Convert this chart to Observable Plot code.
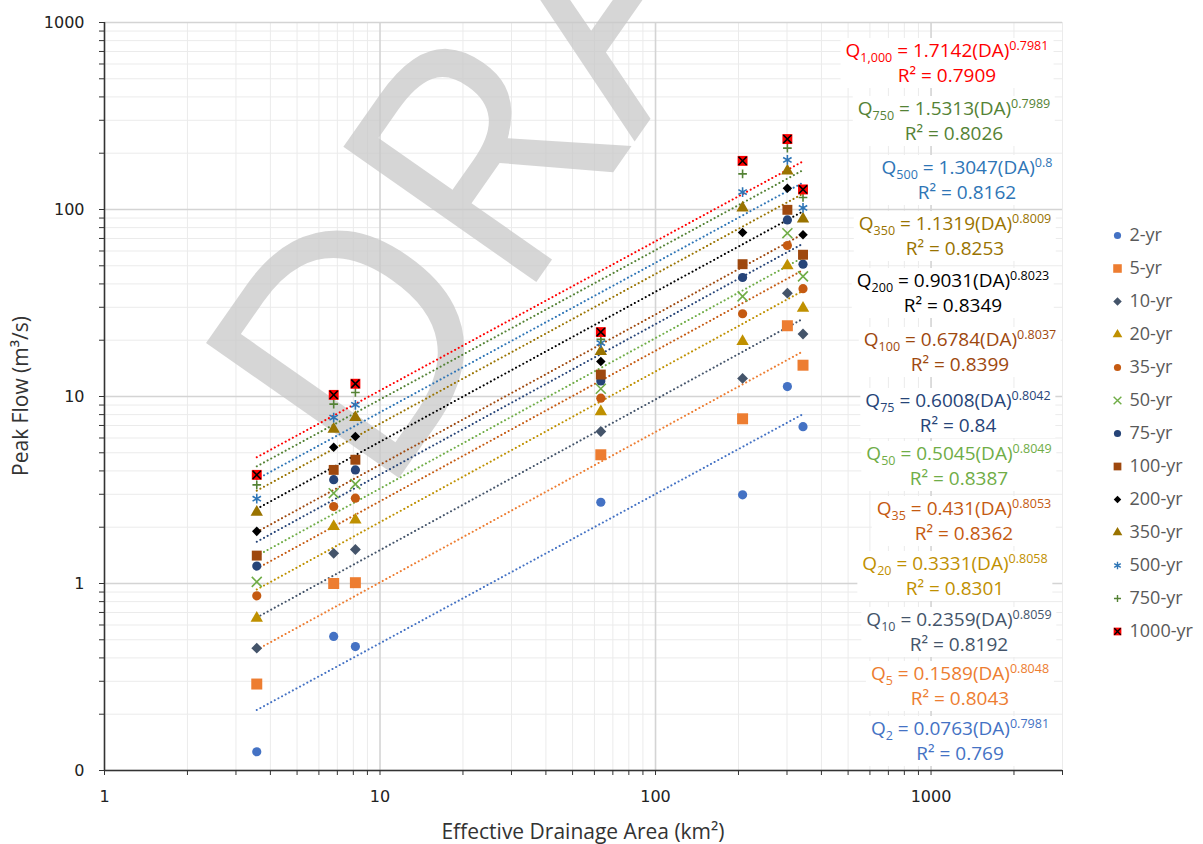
<!DOCTYPE html>
<html>
<head>
<meta charset="utf-8">
<script src="https://cdn.jsdelivr.net/npm/d3@7"></script>
<script src="https://cdn.jsdelivr.net/npm/@observablehq/plot@0.6"></script>
<style>
  body { margin: 0; background: #fff; }
  #wrap { position: relative; width: 1203px; height: 844px; overflow: hidden; background: #fff; }
  #wrap svg { position: absolute; left: 0; top: 0; }
  .eq { position: absolute; transform: translateX(-50%); background: #fff; text-align: center;
        white-space: nowrap; font-family: "Open Sans", sans-serif; font-size: 19px; line-height: 25px; padding: 0 5px; }
  .eq sub, .eq sup { font-size: 0.66em; line-height: 0; }
  .axt { position: absolute; font-family: "Open Sans", sans-serif; font-size: 21px; line-height: 21px; color: #333; white-space: nowrap; }
</style>
</head>
<body>
<div id="wrap"></div>
<script>
// ---------- data ----------
const drainageArea = [3.57, 6.79, 8.14, 63.3, 207, 301, 343];
const seriesNames = ["2-yr","5-yr","10-yr","20-yr","35-yr","50-yr","75-yr","100-yr","200-yr","350-yr","500-yr","750-yr","1000-yr"];
const q2yr    = [0.126, 0.521, 0.46, 2.72, 2.98, 11.3, 6.9];
const q5yr    = [0.290, 1.00, 1.01, 4.88, 7.6, 23.9, 14.7];
const q10yr   = [0.451, 1.45, 1.52, 6.5, 12.5, 35.7, 21.6];
const q20yr   = [0.653, 2.02, 2.19, 8.3, 19.7, 50, 29.7];
const q35yr   = [0.859, 2.58, 2.86, 9.8, 27.7, 64.2, 37.7];
const q50yr   = [1.02, 3.04, 3.40, 11.0, 34.3, 74.7, 43.9];
const q75yr   = [1.24, 3.59, 4.05, 12.1, 43.3, 88, 51];
const q100yr  = [1.41, 4.05, 4.59, 13.1, 51, 99.6, 57.3];
const q200yr  = [1.90, 5.35, 6.11, 15.4, 75.3, 130, 73.2];
const q350yr  = [2.41, 6.68, 7.72, 17.4, 102, 161, 89];
const q500yr  = [2.84, 7.72, 9.03, 19.3, 124, 184, 102];
const q750yr  = [3.37, 9.1, 10.5, 20.2, 155, 213, 116];
const q1000yr = [3.81, 10.2, 11.7, 22.1, 182, 238, 128];
const seriesValues = [q2yr, q5yr, q10yr, q20yr, q35yr, q50yr, q75yr, q100yr, q200yr, q350yr, q500yr, q750yr, q1000yr];

// trendline (power fit) coefficients, as printed on the chart
const coefA   = [0.0763, 0.1589, 0.2359, 0.3331, 0.431, 0.5045, 0.6008, 0.6784, 0.9031, 1.1319, 1.3047, 1.5313, 1.7142];
const coefB   = [0.7981, 0.8048, 0.8059, 0.8058, 0.8053, 0.8049, 0.8042, 0.8037, 0.8023, 0.8009, 0.8, 0.7989, 0.7981];
const coefAText = ["0.0763","0.1589","0.2359","0.3331","0.431","0.5045","0.6008","0.6784","0.9031","1.1319","1.3047","1.5313","1.7142"];
const coefBText = ["0.7981","0.8048","0.8059","0.8058","0.8053","0.8049","0.8042","0.8037","0.8023","0.8009","0.8","0.7989","0.7981"];
const rSquared  = ["0.769","0.8043","0.8192","0.8301","0.8362","0.8387","0.84","0.8399","0.8349","0.8253","0.8162","0.8026","0.7909"];
const subLabels = ["2","5","10","20","35","50","75","100","200","350","500","750","1,000"];

const xTickValues = [1, 10, 100, 1000];
const xTickLabels = ["1", "10", "100", "1000"];
const yTickValues = [0.1, 1, 10, 100, 1000];
const yTickLabels = ["0", "1", "10", "100", "1000"];

// ---------- styles ----------
const colors = ["#4472C4","#ED7D31","#44546A","#BF9000","#C55A11","#70AD47","#264478","#9E480E","#000000","#997300","#2E75B6","#548235","#FF0000"];
const markerStyle = [
  {symbol:"circle", r:4.6},
  {symbol:"square", r:6.2},
  {symbol:"diamond2", r:4.9},
  {symbol:"triangle", r:4.6},
  {symbol:"circle", r:4.6},
  {symbol:"times", r:4.6, stroke:true},
  {symbol:"circle", r:4.6},
  {symbol:"square", r:5.6},
  {symbol:"diamond2", r:4.3},
  {symbol:"triangle", r:4.6},
  {symbol:"asterisk", r:4.6, stroke:true},
  {symbol:"plus", r:2.9, stroke:true},
  {symbol:"square", r:5.6, cross:true}
];
// label layout: centre x, centre y of first line (pixels)
const labelLayout = [[960,728],[960,673],[959,619],[955,563],[964,508],[959,453],[958,400],[960,339],[953,280],[955,223],[967,167],[954,108],[947,50]];

// ---------- derived ----------
const minorTicks = (decades) => decades.flatMap(d => [2,3,4,5,6,7,8,9].map(k => d * k));
const xMinor = minorTicks([1, 10, 100, 1000]).filter(v => v <= 3000);
const yMinor = minorTicks([0.1, 1, 10, 100]);
const fmt = (vals, labs) => v => { const i = vals.findIndex(t => Math.abs(t - v) < 1e-9); return i >= 0 ? labs[i] : ""; };

const xMin = d3.min(drainageArea), xMax = d3.max(drainageArea);

const marks = [
  Plot.ruleX(xMinor, {stroke: "#ebebeb", strokeWidth: 1}),
  Plot.ruleY(yMinor, {stroke: "#ebebeb", strokeWidth: 1}),
  Plot.ruleX(xTickValues, {stroke: "#d4d4d4", strokeWidth: 1.6}),
  Plot.ruleY(yTickValues, {stroke: "#d4d4d4", strokeWidth: 1.6}),
  Plot.text(["DRAFT"], {frameAnchor: "bottom-left", dx: 276, dy: -266, text: d => d, rotate: -55,
    textAnchor: "start", lineAnchor: "bottom", fontSize: 330, fontFamily: "Open Sans, sans-serif",
    fill: "#c8c8c8", fillOpacity: 0.75, clip: false})
];

seriesNames.forEach((name, i) => {
  const pts = [xMin, xMax].map(x => ({x, y: coefA[i] * Math.pow(x, coefB[i])}));
  marks.push(Plot.line(pts, {x: "x", y: "y", stroke: colors[i], strokeWidth: 2,
    strokeDasharray: "0.1 4", strokeLinecap: "round"}));
});

seriesNames.forEach((name, i) => {
  const data = drainageArea.map((x, j) => ({x, y: seriesValues[i][j]}));
  const m = markerStyle[i];
  if (m.stroke) {
    marks.push(Plot.dot(data, {x: "x", y: "y", symbol: m.symbol, r: m.r, stroke: colors[i], strokeWidth: 1.6, fill: "none"}));
  } else {
    marks.push(Plot.dot(data, {x: "x", y: "y", symbol: m.symbol, r: m.r, fill: colors[i], stroke: "none"}));
  }
  if (m.cross) {
    marks.push(Plot.dot(data, {x: "x", y: "y", symbol: "times", r: 3.8, stroke: "#000", strokeWidth: 1.6, fill: "none"}));
  }
});

marks.push(
  Plot.ruleX([1], {stroke: "#333", strokeWidth: 1.5}),
  Plot.ruleY([0.1], {stroke: "#333", strokeWidth: 1.5}),
  Plot.axisX({ticks: [...xTickValues, ...xMinor], tickFormat: fmt(xTickValues, xTickLabels), tickSize: 5,
    tickPadding: 15, fontSize: 16, fontFamily: "DejaVu Sans, sans-serif", label: null, stroke: "#333"}),
  Plot.axisY({ticks: [...yTickValues, ...yMinor], tickFormat: fmt(yTickValues, yTickLabels), tickSize: 5,
    tickPadding: 15, fontSize: 16, fontFamily: "DejaVu Sans, sans-serif", label: null, stroke: "#333"})
);

const chart = Plot.plot({
  width: 1203, height: 844,
  marginLeft: 104, marginRight: 141, marginTop: 22, marginBottom: 74,
  x: {type: "log", domain: [1, 3000]},
  y: {type: "log", domain: [0.1, 1000]},
  style: {background: "transparent", color: "#222", overflow: "visible"},
  marks
});
const wrap = document.getElementById("wrap");
wrap.appendChild(chart);

// equation labels
seriesNames.forEach((name, i) => {
  const [cx, cy] = labelLayout[i];
  const div = document.createElement("div");
  div.className = "eq";
  div.style.left = cx + "px";
  div.style.top = (cy - 12.5) + "px";
  div.style.color = colors[i];
  div.innerHTML = `Q<sub>${subLabels[i]}</sub> = ${coefAText[i]}(DA)<sup>${coefBText[i]}</sup><br>R² = ${rSquared[i]}`;
  wrap.appendChild(div);
});

// axis titles
const xt = document.createElement("div");
xt.className = "axt";
xt.textContent = "Effective Drainage Area (km²)";
xt.style.left = "583px"; xt.style.top = "821px"; xt.style.transform = "translateX(-50%)";
wrap.appendChild(xt);
const yt = document.createElement("div");
yt.className = "axt";
yt.textContent = "Peak Flow (m³/s)";
yt.style.left = "20px"; yt.style.top = "396px"; yt.style.transform = "translate(-50%,-50%) rotate(-90deg)";
wrap.appendChild(yt);

// legend
const legend = Plot.plot({
  width: 93, height: 480,
  margin: 0, marginLeft: 10,
  y: {type: "point", domain: seriesNames, range: [16, 16 + 12 * 36.17], axis: null},
  style: {background: "transparent", overflow: "visible"},
  marks: [
    ...seriesNames.map((name, i) => {
      const m = markerStyle[i];
      const r = m.symbol === "plus" ? 2.4 : m.r * 0.78;
      return m.stroke
        ? Plot.dot([name], {y: d => d, frameAnchor: "left", symbol: m.symbol, r, stroke: colors[i], strokeWidth: 1.4, fill: "none"})
        : Plot.dot([name], {y: d => d, frameAnchor: "left", symbol: m.symbol, r, fill: colors[i], stroke: "none"});
    }),
    Plot.dot([seriesNames[12]], {y: d => d, frameAnchor: "left", symbol: "times", r: 3, stroke: "#000", strokeWidth: 1.3, fill: "none"}),
    Plot.text(seriesNames, {y: d => d, text: d => d, frameAnchor: "left", dx: 12, textAnchor: "start",
      fontSize: 18, fontFamily: "Open Sans, sans-serif", fill: "#595959"})
  ]
});
legend.style.left = "1107px";
legend.style.top = "200px";
wrap.appendChild(legend);
</script>
</body>
</html>
